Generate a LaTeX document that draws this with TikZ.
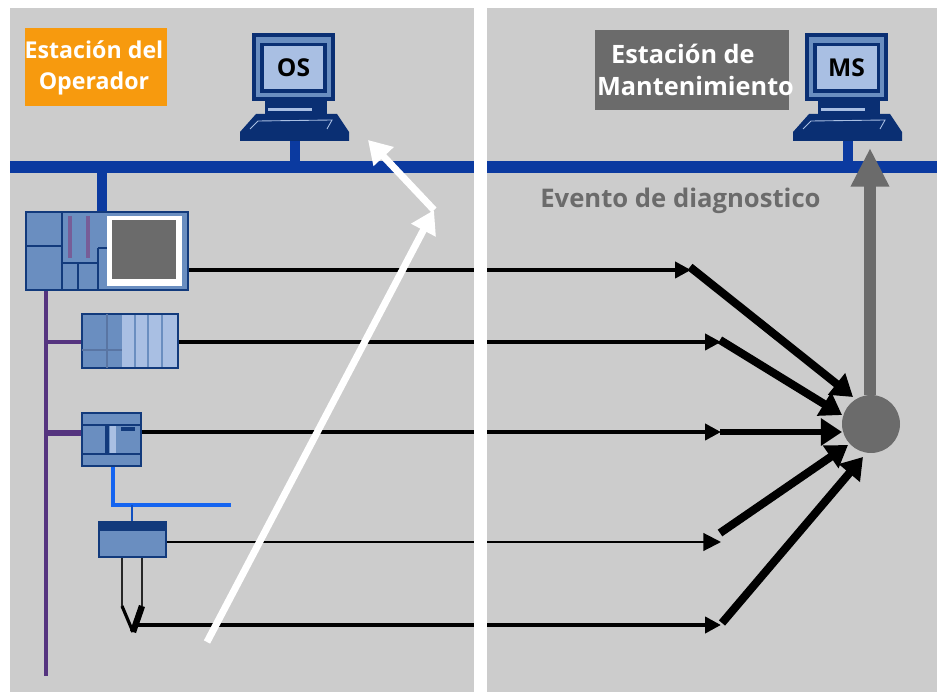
\documentclass[tikz,border=0pt]{standalone}
\usepackage{fontspec}
\setmainfont{Open Sans}
\usetikzlibrary{arrows.meta,positioning}

\definecolor{panelgray}{HTML}{CCCCCC}
\definecolor{busblue}{HTML}{0B3AA0}
\definecolor{darkblue}{HTML}{123A7C}
\definecolor{midblue}{HTML}{6A8EC0}
\definecolor{lightblue}{HTML}{A9BFE3}
\definecolor{navy}{HTML}{0A2F73}
\definecolor{fieldblue}{HTML}{1464F0}
\definecolor{purplebus}{HTML}{55347F}
\definecolor{stampgray}{HTML}{6B6B6B}
\definecolor{stamporange}{HTML}{F79A0E}

\tikzset{
    unitbox/.style={draw=darkblue, line width=1.6pt, fill=midblue, inner sep=0pt},
    signal/.style={line width=2.6pt, -{Triangle[length=9pt, width=9pt]}},
    thinsignal/.style={line width=1.2pt, -{Triangle[length=10pt, width=10pt]}},
    fanin/.style={line width=4.6pt, -{Triangle[length=12pt, width=15pt]}},
    whitepath/.style={white, line width=4pt, -{Triangle[length=13pt, width=15pt]}},
    stamptext/.style={text=white, font=\bfseries\fontsize{13.2}{17.8}\selectfont, inner sep=0pt},
}

\begin{document}
\begin{tikzpicture}[x=0.02cm, y=-0.02cm]
    \useasboundingbox (0, 0) rectangle (937, 692);

    % the panels
    \fill[white] (0, 0) rectangle (937, 692);
    \fill[panelgray] (10, 8) rectangle (937, 692);

    % the bus
    \coordinate (busL) at (10, 167);
    \coordinate (busR) at (937, 167);
    \draw[busblue, line width=6.5pt] (busL) -- (busR);

    % the stations
    \node[fill=stamporange, minimum width=2.84cm, minimum height=1.58cm, inner sep=0pt] (stampOS) at (96, 67) {};
    \node[stamptext, align=center] (textOS) at (94, 68) {Estación del\\Operador};
    \node[fill=stampgray, minimum width=3.9cm, minimum height=1.6cm, inner sep=0pt] (stampMS) at (692, 70) {};
    \node[stamptext, align=left, font=\bfseries\fontsize{14.4}{17.8}\selectfont] (textMS) at (695.5, 70) {\hspace*{8pt}Estación de\\Mantenimiento};

    \foreach \offs/\lab in {0/OS, 553/MS} {
        \begin{scope}[xshift=\offs*0.02cm]
            % stem
            \draw[busblue, line width=5.5pt] (295, 135) -- (295, 167);
            % keyboard and neck
            \fill[navy] (265, 98) rectangle (327, 116);
            \fill[lightblue] (268, 108) rectangle (312, 111);
            \fill[navy] (256, 114) -- (337, 114) -- (349, 132) -- (349, 141) -- (240, 141) -- (240, 132) -- cycle;
            \draw[lightblue, line width=0.5pt] (250, 129) -- (258, 121) -- (332, 120) -- (327, 129);
            % monitor
            \fill[navy] (252, 33) rectangle (335, 101);
            \fill[midblue] (256, 37) rectangle (331, 97);
            \fill[navy] (260, 43) rectangle (327, 93);
            \node[fill=lightblue, minimum width=1.2cm, minimum height=0.86cm, inner sep=0pt, font=\bfseries\fontsize{14}{16}\selectfont] (mon\lab) at (293.5, 68) {\lab};
        \end{scope}
    }

    % the units
    \draw[busblue, line width=5.5pt] (102, 167) -- (102, 212);
    \draw[purplebus, line width=2.2pt] (46, 290) -- (46, 676);
    \draw[purplebus, line width=2.4pt] (46, 342) -- (82, 342);
    \draw[purplebus, line width=3.6pt] (46, 433) -- (82, 433);

    \node[unitbox, minimum width=3.24cm, minimum height=1.56cm] (cpuA) at (107, 251) {};
    \node[unitbox, minimum width=1.92cm, minimum height=1.08cm] (cpuB) at (130, 341) {};
    \node[unitbox, minimum width=1.18cm, minimum height=1.06cm] (cpuC) at (111.5, 439.5) {};
    \node[unitbox, minimum width=1.34cm, minimum height=0.7cm] (slave) at (132.5, 539.5) {};

    % inside of the first unit
    \draw[darkblue, line width=1.6pt] (62, 212) -- (62, 290) (26, 246) -- (62, 246) (62, 263) -- (98, 263) (78, 263) -- (78, 290) (98, 248) -- (98, 290) (98, 248) -- (107, 248);
    \foreach \i in {70, 88} {
        \draw[purplebus!80, line width=2pt] (\i, 216) -- (\i, 258);
    };
    \fill[white] (107, 216) rectangle (182, 286);
    \fill[stampgray] (112, 220) rectangle (176, 279);

    % inside of the second unit
    \fill[lightblue] (122, 315) rectangle (177, 367);
    \foreach \i in {135, 148, 162} {
        \draw[midblue, line width=1.2pt] (\i, 315) -- (\i, 367);
    };
    \draw[darkblue!70, line width=0.6pt] (82, 350) -- (122, 350) (107, 314) -- (107, 368);

    % inside of the third unit
    \draw[darkblue, line width=1pt] (82, 425) -- (141, 425) (82, 454) -- (141, 454);
    \draw[darkblue, line width=2pt] (107, 425) -- (107, 454);
    \fill[lightblue] (110, 426) rectangle (116, 453);
    \fill[darkblue] (121, 427) rectangle (135, 431);

    % inside of the fourth unit
    \fill[darkblue] (99, 522) rectangle (166, 531);

    % the field bus
    \coordinate (fieldEnd) at (231, 505);
    \coordinate (fieldKnee) at (113, 505);
    \coordinate (fieldTap) at (132, 505);
    \draw[fieldblue, line width=2.8pt] (cpuC.south -| fieldKnee) -- (fieldKnee) -- (fieldEnd);
    \draw[fieldblue!80!black, line width=1.5pt] (fieldTap) -- (slave.north -| fieldTap);

    % the sensor
    \coordinate (wireA) at (122, 606);
    \coordinate (wireB) at (142, 606);
    \coordinate (tip) at (133, 632);
    \draw[black!85, line width=1.1pt] (slave.south -| wireA) -- (wireA);
    \draw[black!85, line width=1.1pt] (slave.south -| wireB) -- (wireB);
    \draw[line width=1.8pt] (wireA) -- (tip);
    \draw[line width=3.6pt] (wireB) -- (tip);

    % signals
    \coordinate (inA) at (691, 270);
    \coordinate (inB) at (721, 342);
    \coordinate (inC) at (721, 432);
    \coordinate (inD) at (721, 542);
    \coordinate (inE) at (721, 625);
    \coordinate (startE) at (136, 625);

    \draw[signal] (cpuA.east |- inA) -- (inA);
    \draw[signal] (cpuB.east |- inB) -- (inB);
    \draw[signal] (cpuC.east |- inC) -- (inC);
    \draw[thinsignal] (slave.east |- inD) -- (inD);
    \draw[signal] (startE) -- (inE);

    % the divider
    \fill[white] (474, 0) rectangle (487, 692);

    % evaluation
    \node[circle, fill=stampgray, minimum size=1.16cm, inner sep=0pt] (event) at (871, 424) {};
    \coordinate (fanA) at (690, 267);
    \coordinate (fanB) at (720, 340);
    \coordinate (fanC) at (720, 432);
    \coordinate (fanD) at (720, 533);
    \coordinate (fanE) at (722, 623);
    \coordinate (headA) at (853, 397);
    \coordinate (headB) at (842, 415);
    \coordinate (headC) at (842, 432);
    \coordinate (headD) at (848, 445);
    \coordinate (headE) at (863, 457);
    \foreach \i in {A, B, D, E} {
        \draw[fanin] (fan\i) -- (head\i);
    };
    \draw[fanin, line width=3pt] (fanC) -- (headC);

    % diagnostic event
    \coordinate (msTip) at (870, 148);
    \draw[stampgray, line width=6.8pt, -{Triangle[length=22pt, width=20.5pt]}] (event.north -| msTip) -- (msTip);
    \node[text=stampgray, font=\bfseries\fontsize{14.6}{16}\selectfont, inner sep=0pt] (eventText) at (680.5, 201) {Evento de diagnostico};

    % operator path
    \coordinate (whiteStart) at (207, 642);
    \coordinate (whiteKnee) at (434, 210);
    \coordinate (whiteEnd) at (368, 140);
    \draw[whitepath] (whiteStart) -- (whiteKnee);
    \draw[whitepath] (whiteKnee) -- (whiteEnd);

\end{tikzpicture}
\end{document}
